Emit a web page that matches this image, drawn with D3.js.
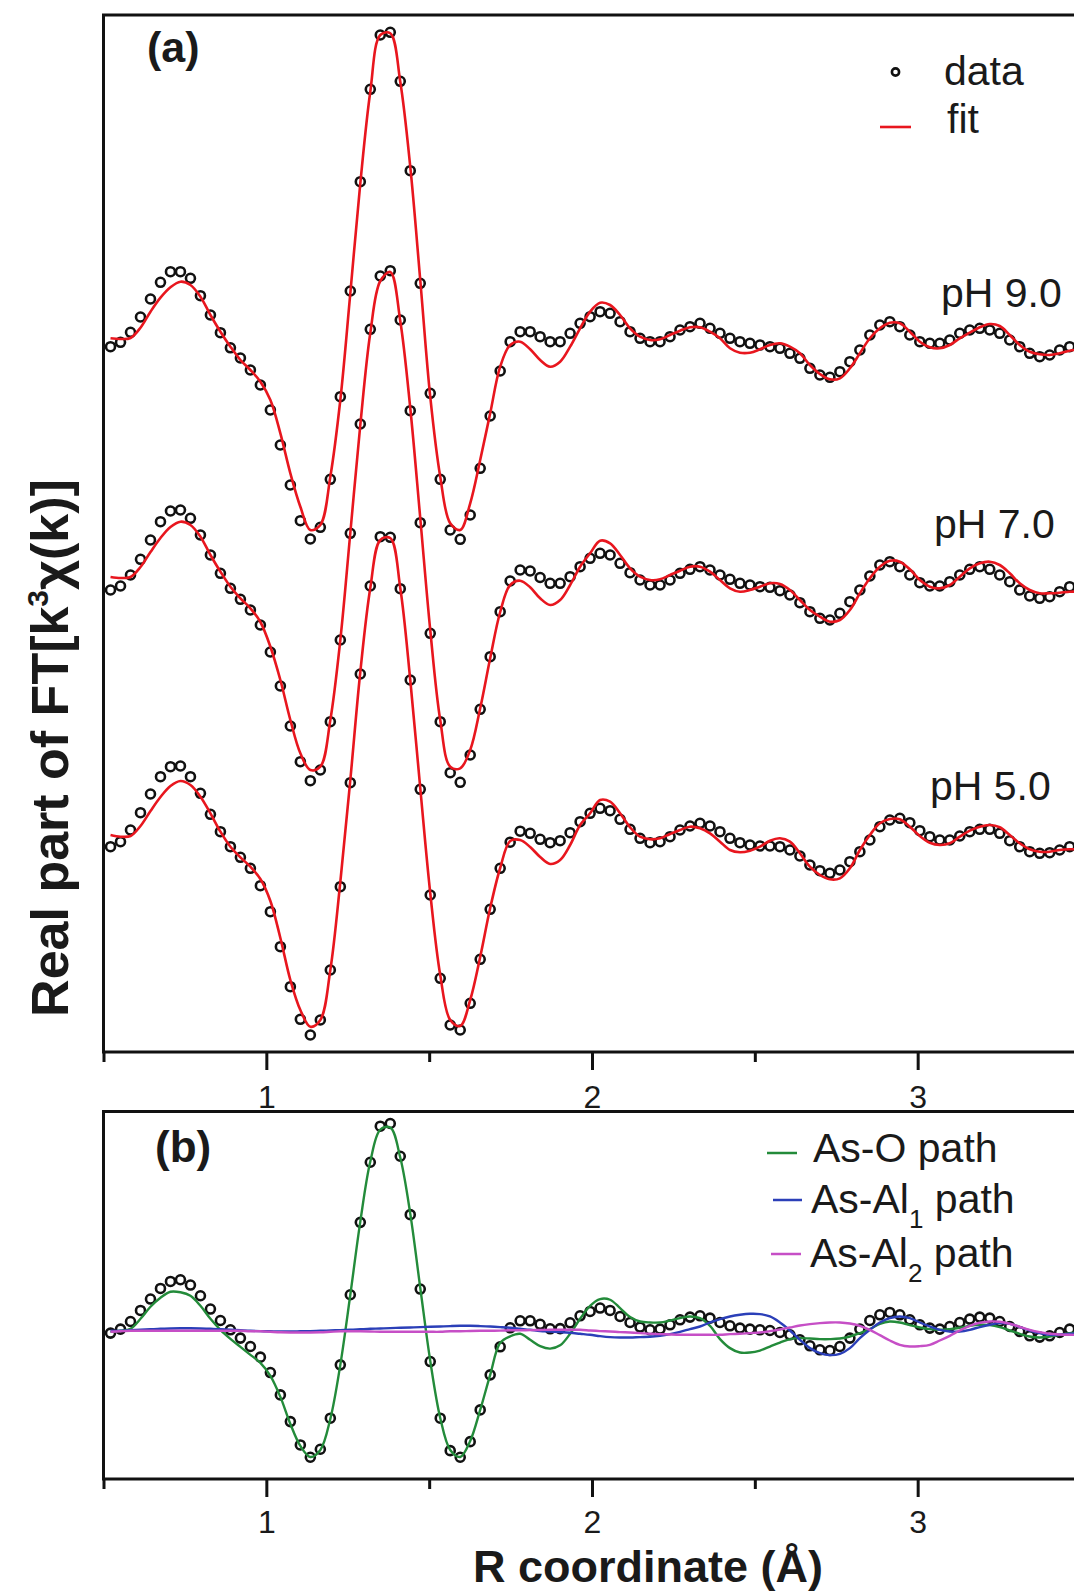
<!DOCTYPE html>
<meta charset="utf-8">
<style>
body { margin: 0; background: #fff; }
svg { display: block; font-family: "Liberation Sans", Arial, sans-serif; }
.frame { fill: none; stroke: #111; stroke-width: 3px; }
.axis line { stroke: #111; stroke-width: 3px; }
.axis text { font-size: 32px; fill: #1a1a1a; font-family: "Liberation Sans", Arial, sans-serif; }
.dot { fill: none; stroke: #111; stroke-width: 2.6px; }
.fit { fill: none; stroke: #e8161e; stroke-width: 2.6px; }
.path-line { fill: none; stroke-width: 2.4px; }
.label { font-size: 41px; fill: #1a1a1a; }
.panel { font-size: 43px; font-weight: bold; fill: #1a1a1a; }
.title { font-weight: bold; fill: #1a1a1a; }
</style>
<body>
<script src="https://d3js.org/d3.v7.min.js"></script>
<script>

// R grid of the transform (spacing pi/102.4), points n = 17 .. 114
var rIndex = d3.range(17, 115);
var R = rIndex.map(function(n) { return n * Math.PI / 102.4; });

// panel (a): real part, each spectrum relative to its own baseline
var ph9Data = [
  -0.67, -0.23, 0.77, 2.3, 4.1, 5.77, 6.83, 6.83, 6.17, 4.43,
  2.5, 0.73, -0.78, -1.8, -3.0, -4.5, -7.0, -10.5, -14.5, -18.07,
  -19.9, -18.73, -13.93, -5.67, 4.9, 15.83, 25.07, 30.5, 30.77, 25.87,
  16.93, 5.67, -5.33, -13.93, -19.0, -19.93, -17.5, -12.83, -7.6, -3.1,
  -0.17, 0.83, 0.83, 0.33, -0.17, -0.17, 0.67, 1.67, 2.33, 2.83,
  2.67, 1.83, 0.83, 0.17, -0.17, -0.17, 0.33, 1.0, 1.33, 1.67,
  1.17, 0.67, 0.17, -0.17, -0.33, -0.5, -0.67, -0.83, -1.33, -1.83,
  -2.83, -3.5, -3.73, -3.17, -2.17, -1.0, 0.5, 1.5, 1.83, 1.33,
  0.5, -0.17, -0.33, -0.33, 0, 0.67, 1.0, 1.17, 1.0, 0.67,
  0, -0.67, -1.33, -1.67, -1.5, -1.0, -0.67, -0.5
];
var ph9Fit = [
  0.17, 0.1, 0.2, 1.23, 2.83, 4.23, 5.27, 5.83, 5.5, 4.33,
  2.5, 0.83, -0.67, -2.0, -3.0, -4.17, -6.0, -9.33, -13.33, -16.67,
  -19.0, -18.5, -13.67, -6.0, 4.67, 15.67, 24.83, 30.5, 30.67, 25.83,
  17.33, 6.0, -5.67, -13.67, -18.33, -19.0, -16.33, -12.0, -7.33, -2.67,
  -0.5, -0.17, -0.93, -2.0, -2.67, -2.17, -0.67, 1.17, 2.83, 3.73,
  3.5, 2.5, 1.17, 0.33, 0, 0.07, 0.5, 0.93, 1.27, 1.27,
  0.83, 0.17, -0.83, -1.27, -1.27, -0.93, -0.5, -0.33, -0.67, -1.33,
  -2.5, -3.4, -3.93, -3.83, -2.83, -1.33, 0.17, 1.17, 1.73, 1.67,
  0.83, -0.17, -0.73, -0.83, -0.5, 0.17, 0.73, 1.27, 1.6, 1.4,
  0.5, -0.5, -1.17, -1.43, -1.5, -1.33, -1.07, -0.93
];
var ph7Data = [
  -1.0, -0.6, 0.5, 2.07, 4.0, 5.83, 6.9, 7.0, 6.17, 4.5,
  2.5, 0.67, -0.83, -1.93, -3.0, -4.5, -7.2, -10.6, -14.6, -18.17,
  -20.07, -19.0, -14.17, -6.0, 4.67, 15.6, 25.07, 30.4, 30.93, 26.0,
  16.93, 5.73, -5.33, -14.17, -19.27, -20.23, -17.5, -12.93, -7.67, -3.17,
  -0.1, 1.0, 0.9, 0.25, -0.33, -0.33, 0.33, 1.33, 2.17, 2.67,
  2.5, 1.67, 0.73, 0, -0.5, -0.5, 0, 0.67, 1.07, 1.33,
  1.0, 0.5, 0.07, -0.33, -0.5, -0.67, -0.73, -1.07, -1.5, -2.27,
  -3.17, -3.83, -4.0, -3.33, -2.17, -1.0, 0.4, 1.5, 1.83, 1.33,
  0.5, -0.27, -0.6, -0.6, -0.17, 0.5, 1.07, 1.33, 1.07, 0.5,
  -0.17, -1.0, -1.6, -1.83, -1.67, -1.17, -0.67, -0.5
];
var ph7Fit = [
  0.3, 0.2, 0.3, 1.3, 2.8, 4.2, 5.3, 5.83, 5.5, 4.33,
  2.5, 0.83, -0.67, -1.83, -2.83, -4.2, -6.67, -10.0, -14.0, -17.33,
  -19.0, -18.67, -14.0, -6.0, 4.7, 15.5, 24.7, 29.9, 30.8, 25.9,
  17.2, 6.2, -5.0, -14.0, -18.67, -18.83, -17.0, -12.83, -7.83, -3.2,
  -0.5, -0.07, -0.73, -1.83, -2.5, -2.0, -0.5, 1.33, 2.67, 3.93,
  3.67, 2.5, 1.17, 0.33, 0, 0.07, 0.5, 0.93, 1.33, 1.33,
  0.83, 0, -0.83, -1.17, -1.0, -0.67, -0.33, -0.4, -1.0, -2.0,
  -3.0, -3.67, -4.17, -4.0, -3.0, -1.33, 0.17, 1.33, 1.93, 1.83,
  1.07, 0, -0.67, -0.83, -0.5, 0.33, 1.17, 1.67, 1.83, 1.5,
  0.67, -0.33, -1.0, -1.33, -1.33, -1.27, -1.17, -1.17
];
var ph5Data = [
  -0.67, -0.17, 1.0, 2.73, 4.6, 6.33, 7.33, 7.4, 6.33, 4.67,
  2.57, 0.83, -0.67, -1.73, -2.83, -4.57, -7.17, -10.67, -14.67, -17.93,
  -19.5, -18.0, -13.0, -4.67, 5.73, 16.6, 25.4, 30.33, 30.27, 25.13,
  16.0, 5.07, -5.5, -13.83, -18.5, -19.0, -16.33, -11.93, -6.93, -2.83,
  -0.22, 0.88, 0.67, 0.07, -0.27, -0.07, 0.73, 1.83, 2.67, 3.17,
  2.93, 2.07, 1.07, 0.17, -0.27, -0.17, 0.33, 1.0, 1.4, 1.67,
  1.4, 0.83, 0.17, -0.27, -0.5, -0.6, -0.6, -0.67, -1.0, -1.6,
  -2.5, -3.07, -3.33, -3.0, -2.17, -1.17, 0, 1.33, 2.0, 2.17,
  1.73, 0.93, 0.33, 0, 0, 0.4, 0.83, 1.07, 1.07, 0.67,
  -0.07, -0.67, -1.17, -1.33, -1.27, -1.0, -0.67, -0.5
];
var ph5Fit = [
  0.5, 0.33, 0.4, 1.4, 2.9, 4.3, 5.4, 5.9, 5.5, 4.33,
  2.67, 0.83, -0.67, -1.73, -2.67, -3.9, -6.1, -9.8, -14.0, -17.0,
  -18.67, -18.0, -13.0, -4.2, 6.0, 16.8, 25.2, 30.0, 30.2, 25.2,
  16.0, 5.2, -5.3, -13.5, -18.0, -18.6, -16.0, -11.7, -6.8, -2.8,
  -0.1, 0, -0.7, -1.7, -2.4, -2.0, -0.5, 1.5, 2.67, 4.0,
  3.83, 2.67, 1.27, 0.33, 0.07, 0.17, 0.6, 1.0, 1.33, 1.17,
  0.67, -0.17, -1.0, -1.23, -1.07, -0.67, -0.07, 0.17, -0.17, -1.33,
  -2.67, -3.5, -3.93, -3.83, -2.83, -1.0, 0.5, 1.67, 2.1, 2.07,
  1.33, 0.4, -0.27, -0.5, -0.33, 0.33, 0.93, 1.33, 1.5, 1.27,
  0.5, -0.33, -0.93, -1.17, -1.17, -1.0, -0.93, -0.93
];

// stacking offsets of the three spectra
var samples = ["pH 9.0", "pH 7.0", "pH 5.0"];
var offsets = [50, 26, 0];

// panel (b): data and single scattering paths
var bData = [
  -0.33, 0.07, 0.83, 1.93, 3.07, 4.13, 4.83, 5.0, 4.47, 3.4,
  2.07, 0.93, 0, -0.83, -1.67, -2.73, -4.27, -6.5, -9.17, -11.5,
  -12.73, -11.93, -8.83, -3.5, 3.5, 10.73, 16.73, 20.33, 20.6, 17.33,
  11.5, 4.07, -3.17, -8.83, -12.07, -12.73, -11.17, -8.0, -4.5, -1.7,
  0.2, 0.9, 0.9, 0.55, 0.1, 0.12, 0.7, 1.4, 1.83, 2.17,
  1.93, 1.33, 0.73, 0.27, 0, 0.07, 0.5, 1.0, 1.27, 1.4,
  1.17, 0.73, 0.4, 0.17, 0.07, 0, -0.07, -0.27, -0.5, -1.0,
  -1.6, -2.0, -2.07, -1.67, -0.83, 0.07, 0.93, 1.5, 1.73, 1.5,
  1.0, 0.5, 0.17, 0.07, 0.33, 0.73, 1.07, 1.27, 1.17, 0.83,
  0.33, -0.17, -0.6, -0.73, -0.6, -0.27, 0.07, 0.17
];
var asO = [
  -0.2, -0.1, 0.1, 1.1, 2.3, 3.2, 3.8, 3.75, 3.4, 2.4,
  1.1, 0, -0.9, -1.7, -2.5, -3.3, -4.6, -6.7, -9.4, -11.6,
  -12.7, -12.0, -8.9, -3.5, 3.5, 10.8, 16.8, 20.0, 20.2, 17.2,
  11.6, 4.2, -3.1, -8.8, -12.0, -12.7, -11.1, -8.0, -4.5, -1.3,
  -0.65, -0.4, -1.0, -1.63, -1.88, -1.55, -0.4, 1.1, 2.4, 3.07,
  3.0, 2.17, 1.27, 0.83, 0.73, 0.73, 0.93, 1.17, 1.33, 1.17,
  0.4, -0.93, -1.83, -2.27, -2.27, -2.07, -1.67, -1.27, -0.93, -0.83,
  -0.87, -0.93, -0.93, -0.87, -0.67, -0.33, 0.07, 0.6, 0.83, 0.73,
  0.47, 0.23, 0.07, 0, 0.07, 0.2, 0.4, 0.5, 0.47, 0.27,
  -0.07, -0.4, -0.67, -0.77, -0.67, -0.5, -0.33, -0.27
];
var asAl1 = [
  -0.1, -0.1, -0.05, 0, 0.05, 0.1, 0.13, 0.15, 0.15, 0.13,
  0.1, 0.05, 0, -0.05, -0.1, -0.13, -0.15, -0.17, -0.17, -0.15,
  -0.13, -0.1, -0.07, -0.03, 0, 0.05, 0.1, 0.13, 0.17, 0.2,
  0.23, 0.27, 0.3, 0.33, 0.37, 0.4, 0.4, 0.37, 0.33, 0.27,
  0.2, 0.1, 0, -0.13, -0.17, -0.23, -0.3, -0.4, -0.5, -0.63,
  -0.73, -0.77, -0.77, -0.73, -0.7, -0.6, -0.43, -0.2, 0.07, 0.33,
  0.73, 1.07, 1.33, 1.5, 1.6, 1.57, 1.33, 0.73, -0.07, -1.0,
  -1.83, -2.33, -2.53, -2.4, -1.83, -0.83, 0, 0.73, 1.17, 1.33,
  1.17, 0.73, 0.33, 0, -0.17, -0.17, 0, 0.27, 0.5, 0.67,
  0.6, 0.27, -0.07, -0.33, -0.5, -0.5, -0.4, -0.33
];
var asAl2 = [
  -0.2, -0.15, -0.1, -0.1, -0.1, -0.1, -0.1, -0.1, -0.1, -0.1,
  -0.1, -0.1, -0.1, -0.1, -0.15, -0.15, -0.2, -0.25, -0.27, -0.27,
  -0.27, -0.25, -0.2, -0.15, -0.15, -0.15, -0.17, -0.2, -0.2, -0.2,
  -0.2, -0.2, -0.2, -0.2, -0.15, -0.15, -0.12, -0.1, -0.1, -0.08,
  -0.05, -0.05, -0.03, -0.02, 0, 0, 0, 0, -0.07, -0.13,
  -0.17, -0.23, -0.27, -0.33, -0.4, -0.43, -0.47, -0.5, -0.5, -0.5,
  -0.5, -0.5, -0.43, -0.4, -0.33, -0.27, -0.13, 0.03, 0.23, 0.43,
  0.57, 0.67, 0.73, 0.73, 0.63, 0.4, 0, -0.53, -1.07, -1.5,
  -1.67, -1.63, -1.5, -1.07, -0.6, -0.07, 0.4, 0.7, 0.83, 0.8,
  0.6, 0.3, 0, -0.23, -0.4, -0.47, -0.5, -0.5
];
var pathNames = ["As-O", "As-Al", "As-Al"];
var pathSubs = ["", "1", "2"];
var pathColors = ["#238b3a", "#2b3fb8", "#c64fc6"];

// tick values of the R axis
var majorTicks = [1, 2, 3];
var minorTicks = [0.5, 1.5, 2.5, 3.5];

var width = 1074, height = 1591;

var svg = d3.select("body").append("svg")
    .attr("width", width)
    .attr("height", height);

// scales
var x = d3.scaleLinear().domain([0.5, 3.5]).range([103.5, 1080.5]);
var yA = d3.scaleLinear().domain([-21.2, 82.5]).range([1052, 15]);
var yB = d3.scaleLinear().domain([-14.9, 21.8]).range([1479, 1111.5]);

function drawFrame(y) {
  svg.append("rect")
      .attr("class", "frame")
      .attr("x", x.range()[0])
      .attr("y", y.range()[1])
      .attr("width", x.range()[1] - x.range()[0])
      .attr("height", y.range()[0] - y.range()[1]);
}

function drawAxis(y, pad) {
  var g = svg.append("g")
      .attr("class", "axis")
      .attr("transform", "translate(0," + y.range()[0] + ")");
  g.append("g")
      .call(d3.axisBottom(x).tickValues(minorTicks).tickSize(10).tickFormat(""))
      .call(function(s) { s.select(".domain").remove(); });
  g.append("g")
      .call(d3.axisBottom(x).tickValues(majorTicks).tickSize(18).tickPadding(pad)
        .tickFormat(d3.format("d")))
      .call(function(s) { s.select(".domain").remove(); });
}

function drawDots(vals, y, off) {
  svg.append("g").selectAll("circle")
      .data(vals)
      .enter().append("circle")
      .attr("class", "dot")
      .attr("cx", function(d, i) { return x(R[i]); })
      .attr("cy", function(d) { return y(d + off); })
      .attr("r", 4.5);
}

function drawLine(vals, y, off, cls, color) {
  var line = d3.line()
      .x(function(d, i) { return x(R[i]); })
      .y(function(d) { return y(d + off); })
      .curve(d3.curveCatmullRom.alpha(0.5));
  var p = svg.append("path")
      .datum(vals)
      .attr("class", cls)
      .attr("d", line);
  if (color) p.style("stroke", color);
}

// ---- panel (a)
drawFrame(yA);
drawAxis(yA, 15);
var aData = [ph9Data, ph7Data, ph5Data];
var aFit = [ph9Fit, ph7Fit, ph5Fit];
samples.forEach(function(s, i) {
  drawDots(aData[i], yA, offsets[i]);
  drawLine(aFit[i], yA, offsets[i], "fit");
});

// sample labels
var labelPos = [[941, 307], [934, 538], [930, 800]];
samples.forEach(function(s, i) {
  svg.append("text")
      .attr("class", "label")
      .attr("x", labelPos[i][0])
      .attr("y", labelPos[i][1])
      .text(s);
});

// legend (a)
svg.append("circle").attr("class", "dot").attr("cx", 895.5).attr("cy", 72).attr("r", 3.6);
svg.append("text").attr("class", "label").attr("x", 944).attr("y", 85).text("data");
svg.append("line").attr("x1", 880).attr("x2", 911).attr("y1", 127).attr("y2", 127)
    .style("stroke", "#e8161e").style("stroke-width", "2.6px");
svg.append("text").attr("class", "label").attr("x", 947).attr("y", 133).text("fit");

svg.append("text").attr("class", "panel").attr("x", 147).attr("y", 62).text("(a)");

// ---- panel (b)
drawFrame(yB);
drawAxis(yB, 13);
drawDots(bData, yB, 0);
[asO, asAl1, asAl2].forEach(function(vals, i) {
  drawLine(vals, yB, 0, "path-line", pathColors[i]);
});

// legend (b)
var legB = [[767, 797, 1153, 813, 1162], [773, 802, 1200, 811, 1213], [771, 801, 1254, 810, 1267]];
pathNames.forEach(function(name, i) {
  svg.append("line")
      .attr("x1", legB[i][0]).attr("x2", legB[i][1])
      .attr("y1", legB[i][2]).attr("y2", legB[i][2])
      .style("stroke", pathColors[i]).style("stroke-width", "2.5px");
  var t = svg.append("text").attr("class", "label")
      .attr("x", legB[i][3]).attr("y", legB[i][4]);
  t.append("tspan").text(name);
  if (pathSubs[i]) {
    t.append("tspan").attr("dy", 15).style("font-size", "26px").text(pathSubs[i]);
    t.append("tspan").attr("dy", -15).text(" path");
  } else {
    t.append("tspan").text(" path");
  }
});

svg.append("text").attr("class", "panel").attr("x", 155).attr("y", 1162)
    .style("font-size", "44px").text("(b)");

// ---- axis titles
svg.append("text")
    .attr("class", "title")
    .attr("x", 648)
    .attr("y", 1582)
    .attr("text-anchor", "middle")
    .style("font-size", "45px")
    .text("R coordinate (\u00c5)");

var yt = svg.append("text")
    .attr("class", "title")
    .attr("transform", "translate(68,748) rotate(-90)")
    .attr("text-anchor", "middle")
    .style("font-size", "52px");
yt.append("tspan").text("Real part of FT[k");
yt.append("tspan").attr("dy", -20).style("font-size", "30px").text("3");
yt.append("tspan").attr("dy", 20).text("\u03c7(k)]");

</script>
</body>
